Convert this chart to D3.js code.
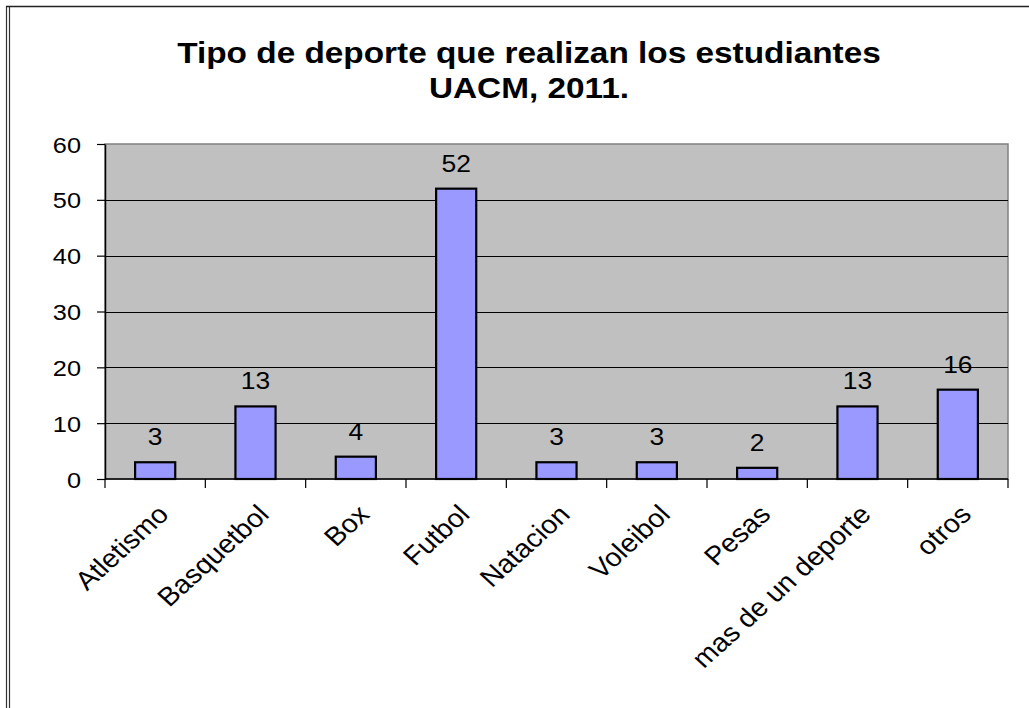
<!DOCTYPE html>
<html>
<head>
<meta charset="utf-8">
<script src="https://cdn.jsdelivr.net/npm/d3@7"></script>
<style>
  body { margin: 0; background: #fff; }
  text { font-family: "Liberation Sans", Arial, sans-serif; fill: #000; }
</style>
</head>
<body>
<div id="chart"></div>
<script>
const categories = ["Atletismo", "Basquetbol", "Box", "Futbol", "Natacion", "Voleibol", "Pesas", "mas de un deporte", "otros"];
const values = [3, 13, 4, 52, 3, 3, 2, 13, 16];
const yTicks = [0, 10, 20, 30, 40, 50, 60];
const titleLines = ["Tipo de deporte que realizan los estudiantes", "UACM, 2011."];

const W = 1029, H = 708;
const plot = {left: 105, top: 144, right: 1008, bottom: 479};
const sx = 1.15; // the original picture is stretched horizontally

const svg = d3.select("#chart").append("svg")
    .attr("width", W)
    .attr("height", H);

// outer frame: double line on the left, single on top
svg.append("line").attr("x1", 6.5).attr("x2", 6.5).attr("y1", 6).attr("y2", H)
    .attr("stroke", "#333").attr("stroke-width", 1.2);
svg.append("line").attr("x1", 9.5).attr("x2", 9.5).attr("y1", 6).attr("y2", H)
    .attr("stroke", "#333").attr("stroke-width", 1.2);
svg.append("line").attr("x1", 6).attr("x2", W).attr("y1", 6.5).attr("y2", 6.5)
    .attr("stroke", "#222").attr("stroke-width", 1.5);

const x = d3.scaleBand()
    .domain(categories)
    .range([plot.left, plot.right])
    .paddingInner(0.6)
    .paddingOuter(0.3);

const y = d3.scaleLinear()
    .domain([0, 60])
    .range([plot.bottom, plot.top]);

// plot area
svg.append("rect")
    .attr("x", plot.left)
    .attr("y", plot.top)
    .attr("width", plot.right - plot.left)
    .attr("height", plot.bottom - plot.top)
    .attr("fill", "#c0c0c0")
    .attr("stroke", "#808080")
    .attr("stroke-width", 1.5);

// gridlines
svg.append("g")
    .selectAll("line")
    .data(yTicks.filter(d => d > 0 && d < 60))
    .enter()
    .append("line")
    .attr("x1", plot.left)
    .attr("x2", plot.right)
    .attr("y1", d => Math.round(y(d)) + 0.5)
    .attr("y2", d => Math.round(y(d)) + 0.5)
    .attr("stroke", "#000")
    .attr("stroke-width", 1);

// bars
svg.append("g")
    .selectAll("rect")
    .data(values)
    .enter()
    .append("rect")
    .attr("x", (d, i) => x(categories[i]))
    .attr("y", d => y(d))
    .attr("width", x.bandwidth())
    .attr("height", d => y(0) - y(d))
    .attr("fill", "#9999ff")
    .attr("stroke", "#000")
    .attr("stroke-width", 2.2);

// value labels
svg.append("g")
    .selectAll("text")
    .data(values)
    .enter()
    .append("text")
    .attr("transform", (d, i) => "translate(" + (x(categories[i]) + x.bandwidth() / 2) + "," + (y(d) - 17) + ")scale(" + sx + ",1)")
    .attr("text-anchor", "middle")
    .attr("font-size", 23)
    .text(d => d);

// y axis
const yAxis = svg.append("g")
    .attr("transform", "translate(" + plot.left + ",0)")
    .call(d3.axisLeft(y).tickValues(yTicks).tickSize(8).tickSizeOuter(0).tickFormat(d3.format("d")));
yAxis.select(".domain").attr("stroke", "#000").attr("stroke-width", 1.5);
yAxis.selectAll(".tick line").attr("stroke", "#000").attr("stroke-width", 1.2);
yAxis.selectAll(".tick text")
    .attr("x", null).attr("dy", null)
    .attr("font-size", 22)
    .attr("font-family", null)
    .attr("fill", "#000")
    .attr("transform", "translate(-24,8)scale(" + sx + ",1)");

// x axis (ticks sit on category boundaries)
const step = (plot.right - plot.left) / categories.length;
const xg = svg.append("g");
xg.append("line")
    .attr("x1", plot.left).attr("x2", plot.right)
    .attr("y1", plot.bottom).attr("y2", plot.bottom)
    .attr("stroke", "#000").attr("stroke-width", 1.5);
xg.selectAll("line.tick")
    .data(d3.range(categories.length + 1))
    .enter()
    .append("line")
    .attr("class", "tick")
    .attr("x1", i => plot.left + i * step)
    .attr("x2", i => plot.left + i * step)
    .attr("y1", plot.bottom)
    .attr("y2", plot.bottom + 9)
    .attr("stroke", "#000")
    .attr("stroke-width", 1.2);

xg.selectAll("text")
    .data(categories)
    .enter()
    .append("text")
    .attr("transform", d => "translate(" + (x(d) + x.bandwidth() / 2 + 15) + "," + 516 + ")scale(1.1,1)rotate(-45)")
    .attr("text-anchor", "end")
    .attr("font-size", 26)
    .text(d => d);

// title
svg.append("g")
    .selectAll("text")
    .data(titleLines)
    .enter()
    .append("text")
    .attr("transform", (d, i) => "translate(529," + (63 + i * 35) + ")scale(" + sx + ",1)")
    .attr("text-anchor", "middle")
    .attr("font-size", 29)
    .attr("font-weight", "bold")
    .text(d => d);
</script>
</body>
</html>
